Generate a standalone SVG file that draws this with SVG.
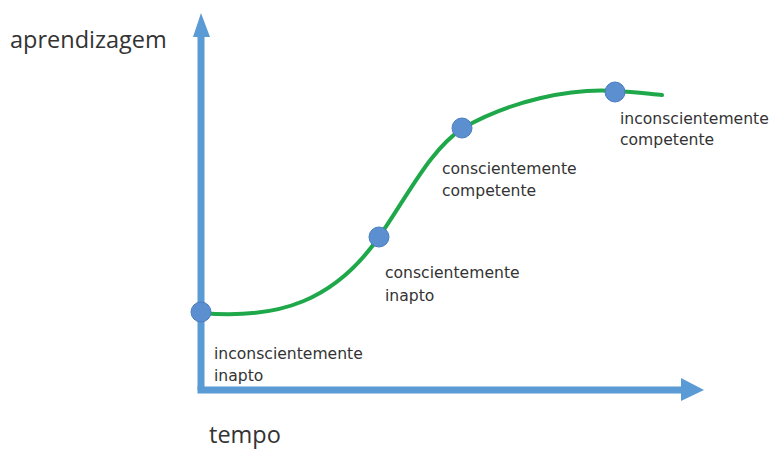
<svg xmlns="http://www.w3.org/2000/svg" width="775" height="450" viewBox="0 0 775 450">
<style>
.axis{stroke:#5b9bd5;stroke-width:7;fill:none}
.head{fill:#5b9bd5}
.curve{stroke:#1fa84a;stroke-width:4;fill:none;stroke-linecap:round}
.dot{fill:#5b8fd0;stroke:#4a7dbf;stroke-width:1}
.big{font-family:"Open Sans","DejaVu Sans",sans-serif;font-size:23.5px;fill:#333}
.lbl{font-family:"DejaVu Sans","Noto Sans",sans-serif;font-size:15.6px;fill:#333}
</style>
<rect width="775" height="450" fill="#ffffff"/>
<g id="axes">
<path class="axis" d="M201,390 L201,34"/>
<path class="axis" d="M197.5,390 L684,390"/>
<polygon class="head" points="201,13 193,37 210,37"/>
<polygon class="head" points="704,390 681,378 681,401"/>
</g>
<g id="connectors">
<path class="curve" d="M201,313 C280,320 335,300 379,237 C410,192 430,150 463,128 C510,101 570,88 615,91 C635,92 650,94 662,95"/>
</g>
<g id="label-y"><text class="big" x="10" y="48">aprendizagem</text></g>
<g id="label-x"><text class="big" x="209" y="443">tempo</text></g>
<g id="node-1">
<circle class="dot" cx="201" cy="312" r="10"/>
<text class="lbl" x="214" y="359">inconscientemente</text>
<text class="lbl" x="214" y="381">inapto</text>
</g>
<g id="node-2">
<circle class="dot" cx="379" cy="237" r="10"/>
<text class="lbl" x="385" y="278">conscientemente</text>
<text class="lbl" x="385" y="301">inapto</text>
</g>
<g id="node-3">
<circle class="dot" cx="462" cy="128" r="10"/>
<text class="lbl" x="442" y="174">conscientemente</text>
<text class="lbl" x="442" y="196">competente</text>
</g>
<g id="node-4">
<circle class="dot" cx="615" cy="92" r="10"/>
<text class="lbl" x="620" y="124">inconscientemente</text>
<text class="lbl" x="620" y="145">competente</text>
</g>
</svg>
